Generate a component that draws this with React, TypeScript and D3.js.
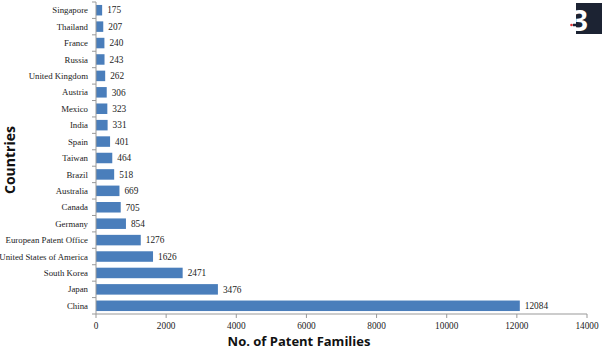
import React, { useEffect, useRef } from 'react';
import * as d3 from 'd3';

const countries = [
  'Singapore', 'Thailand', 'France', 'Russia', 'United Kingdom', 'Austria', 'Mexico',
  'India', 'Spain', 'Taiwan', 'Brazil', 'Australia', 'Canada', 'Germany',
  'European Patent Office', 'United States of America', 'South Korea', 'Japan', 'China',
];
const families = [
  175, 207, 240, 243, 262, 306, 323, 331, 401, 464, 518, 669, 705, 854,
  1276, 1626, 2471, 3476, 12084,
];
const xTicks = [0, 2000, 4000, 6000, 8000, 10000, 12000, 14000];

const App = () => {
  const ref = useRef<SVGSVGElement>(null);

  useEffect(() => {
    const svg = d3.select(ref.current);
    svg.selectAll('*').remove();

    const width = 602;
    const height = 351;
    const left = 96;
    const right = 587;
    const top = 2;
    const bottom = 314;

    const x = d3.scaleLinear().domain([0, 14000]).range([left, right]);
    const y = d3.scaleBand().domain(countries).range([top, bottom]).paddingInner(0.36).paddingOuter(0.18);
    const step = y.step();

    svg.append('rect').attr('width', width).attr('height', height).attr('fill', '#fff');

    const serif = "'Liberation Serif', 'DejaVu Serif', serif";
    const fs = 8.8;

    // bars
    svg.append('g')
      .selectAll('rect')
      .data(countries)
      .enter()
      .append('rect')
      .attr('x', x(0))
      .attr('y', d => y(d)!)
      .attr('width', (d, i) => x(families[i]) - x(0))
      .attr('height', y.bandwidth())
      .attr('fill', '#4a7ebb');

    // value labels
    svg.append('g')
      .selectAll('text')
      .data(countries)
      .enter()
      .append('text')
      .attr('x', (d, i) => x(families[i]) + 5)
      .attr('y', d => y(d)! + y.bandwidth() / 2)
      .attr('dy', '0.35em')
      .attr('font-family', serif)
      .attr('font-size', 9.3)
      .attr('fill', '#222')
      .text((d, i) => families[i]);

    // y axis
    const axisColor = '#999';
    svg.append('line')
      .attr('x1', left).attr('x2', left).attr('y1', top).attr('y2', bottom)
      .attr('stroke', axisColor);
    d3.range(countries.length + 1).forEach(i => {
      const yy = bottom - i * step;
      svg.append('line')
        .attr('x1', left - 4).attr('x2', left).attr('y1', yy).attr('y2', yy)
        .attr('stroke', axisColor);
    });
    svg.append('g')
      .selectAll('text')
      .data(countries)
      .enter()
      .append('text')
      .attr('x', left - 8)
      .attr('y', d => y(d)! + y.bandwidth() / 2)
      .attr('dy', '0.35em')
      .attr('text-anchor', 'end')
      .attr('font-family', serif)
      .attr('font-size', fs)
      .attr('fill', '#222')
      .text(d => d);

    // x axis
    svg.append('line')
      .attr('x1', left).attr('x2', right).attr('y1', bottom).attr('y2', bottom)
      .attr('stroke', axisColor);
    xTicks.forEach(t => {
      svg.append('line')
        .attr('x1', x(t)).attr('x2', x(t)).attr('y1', bottom).attr('y2', bottom + 4)
        .attr('stroke', axisColor);
      svg.append('text')
        .attr('x', x(t))
        .attr('y', bottom + 15)
        .attr('text-anchor', 'middle')
        .attr('font-family', serif)
        .attr('font-size', 9.3)
        .attr('fill', '#222')
        .text(t);
    });

    // axis titles
    svg.append('text')
      .attr('x', 299)
      .attr('y', 346)
      .attr('text-anchor', 'middle')
      .attr('font-family', "'Open Sans', sans-serif")
      .attr('font-weight', 'bold')
      .attr('font-size', 13)
      .attr('fill', '#111')
      .text('No. of Patent Families');

    svg.append('text')
      .attr('transform', 'translate(15,160) rotate(-90)')
      .attr('text-anchor', 'middle')
      .attr('font-family', "'Open Sans', sans-serif")
      .attr('font-weight', 'bold')
      .attr('font-size', 14)
      .attr('fill', '#111')
      .text('Countries');

    // logo in the corner
    const logo = svg.append('g');
    logo.append('rect').attr('x', 576).attr('y', 3).attr('width', 26).attr('height', 31).attr('fill', '#1c2333');
    logo.append('text')
      .attr('x', 580).attr('y', 31)
      .attr('text-anchor', 'middle')
      .attr('font-family', "'Open Sans', sans-serif")
      .attr('font-weight', 'bold')
      .attr('font-size', 28)
      .attr('fill', '#fff')
      .text('3');
    logo.append('line').attr('x1', 573).attr('x2', 579).attr('y1', 25).attr('y2', 25)
      .attr('stroke', '#1c2333').attr('stroke-width', 2.5);
    logo.append('circle').attr('cx', 571.5).attr('cy', 25).attr('r', 1.3).attr('fill', '#d33');
  }, []);

  return <svg ref={ref} width={602} height={351} style={{ display: 'block', position: 'absolute', left: 0, top: 0 }} />;
};

export default App;
